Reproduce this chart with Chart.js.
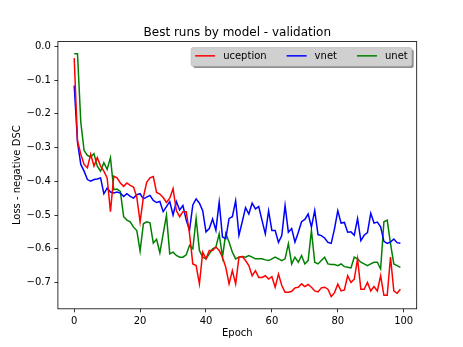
<!DOCTYPE html>
<html><head><meta charset="utf-8">
<script src="https://cdn.jsdelivr.net/npm/chart.js@4.4.0/dist/chart.umd.min.js"></script>
<style>html,body{margin:0;padding:0;background:#fff;}#wrap{width:463px;height:347px;position:relative;}</style>
</head><body><div id="wrap"><canvas id="c" width="463" height="347"></canvas></div>
<script>
const epochs = [0,1,2,3,4,5,6,7,8,9,10,11,12,13,14,15,16,17,18,19,20,21,22,23,24,25,26,27,28,29,30,31,32,33,34,35,36,37,38,39,40,41,42,43,44,45,46,47,48,49,50,51,52,53,54,55,56,57,58,59,60,61,62,63,64,65,66,67,68,69,70,71,72,73,74,75,76,77,78,79,80,81,82,83,84,85,86,87,88,89,90,91,92,93,94,95,96,97,98,99];
const uception = [-0.035,-0.28,-0.32,-0.35,-0.36,-0.32,-0.355,-0.33,-0.355,-0.37,-0.39,-0.49,-0.385,-0.39,-0.405,-0.415,-0.405,-0.412,-0.417,-0.447,-0.521,-0.447,-0.403,-0.39,-0.386,-0.433,-0.438,-0.448,-0.463,-0.45,-0.422,-0.487,-0.505,-0.49,-0.49,-0.555,-0.645,-0.65,-0.704,-0.61,-0.63,-0.605,-0.605,-0.595,-0.605,-0.625,-0.655,-0.704,-0.665,-0.704,-0.625,-0.623,-0.635,-0.65,-0.68,-0.665,-0.685,-0.685,-0.68,-0.69,-0.683,-0.714,-0.675,-0.709,-0.729,-0.729,-0.726,-0.716,-0.714,-0.704,-0.712,-0.706,-0.714,-0.725,-0.728,-0.716,-0.714,-0.72,-0.742,-0.73,-0.705,-0.725,-0.722,-0.68,-0.70,-0.69,-0.63,-0.72,-0.72,-0.70,-0.725,-0.712,-0.725,-0.68,-0.738,-0.738,-0.625,-0.725,-0.732,-0.72];
const vnet = [-0.116,-0.284,-0.35,-0.37,-0.395,-0.40,-0.395,-0.393,-0.39,-0.437,-0.42,-0.432,-0.435,-0.432,-0.435,-0.445,-0.437,-0.445,-0.45,-0.44,-0.437,-0.452,-0.447,-0.442,-0.457,-0.463,-0.46,-0.49,-0.475,-0.46,-0.5,-0.46,-0.485,-0.472,-0.515,-0.545,-0.47,-0.452,-0.465,-0.487,-0.55,-0.54,-0.512,-0.545,-0.462,-0.565,-0.57,-0.51,-0.505,-0.458,-0.56,-0.52,-0.478,-0.497,-0.465,-0.482,-0.475,-0.516,-0.556,-0.488,-0.546,-0.546,-0.581,-0.561,-0.472,-0.551,-0.54,-0.58,-0.552,-0.52,-0.513,-0.497,-0.536,-0.487,-0.558,-0.561,-0.568,-0.581,-0.584,-0.541,-0.487,-0.524,-0.522,-0.551,-0.55,-0.56,-0.511,-0.576,-0.56,-0.552,-0.495,-0.524,-0.521,-0.535,-0.578,-0.584,-0.58,-0.571,-0.582,-0.584];
const unet = [-0.022,-0.022,-0.225,-0.309,-0.323,-0.328,-0.318,-0.355,-0.37,-0.345,-0.365,-0.33,-0.425,-0.423,-0.43,-0.505,-0.515,-0.52,-0.536,-0.546,-0.607,-0.526,-0.52,-0.523,-0.583,-0.572,-0.612,-0.556,-0.501,-0.615,-0.61,-0.62,-0.625,-0.625,-0.618,-0.59,-0.60,-0.51,-0.605,-0.625,-0.63,-0.615,-0.6,-0.595,-0.556,-0.625,-0.555,-0.58,-0.61,-0.63,-0.625,-0.623,-0.625,-0.62,-0.625,-0.63,-0.63,-0.63,-0.633,-0.635,-0.63,-0.625,-0.63,-0.635,-0.63,-0.585,-0.645,-0.625,-0.64,-0.62,-0.645,-0.635,-0.546,-0.64,-0.645,-0.635,-0.625,-0.645,-0.647,-0.647,-0.65,-0.645,-0.653,-0.655,-0.657,-0.625,-0.63,-0.64,-0.645,-0.65,-0.645,-0.64,-0.64,-0.66,-0.52,-0.515,-0.585,-0.645,-0.65,-0.655];
const xTickValues = [0,20,40,60,80,100];
const yTickValues = [0,-0.1,-0.2,-0.3,-0.4,-0.5,-0.6,-0.7];
const seriesNames = ['uception','vnet','unet'];
const seriesColors = ['#ff0000','#0000ff','#008000'];
const titleText = 'Best runs by model - validation';
const xLabelText = 'Epoch';
const yLabelText = 'Loss - negative DSC';

const FONT = '"DejaVu Sans", sans-serif';
const allY = uception.concat(vnet, unet);
const yMinD = Math.min(...allY), yMaxD = Math.max(...allY);
const xMinD = Math.min(...epochs), xMaxD = Math.max(...epochs);
const yPad = (yMaxD - yMinD) * 0.05, xPad = (xMaxD - xMinD) * 0.05;

function pts(vals){ return vals.map((v,i)=>({x: epochs[i], y: v})); }
const seriesVals = [uception, vnet, unet];

const AX = {left: 57.9, right: 416.7, top: 41.6, bottom: 308.8};
const W = 463, H = 347;

function fmtY(v){ const r = Math.round(v*10)/10; return (r < 0 ? '\u2212' : '') + Math.abs(r).toFixed(1); }

const decor = {
  id: 'decor',
  afterDatasetsDraw(chart){
    const {ctx, chartArea: a} = chart;
    ctx.save();
    ctx.strokeStyle = '#000'; ctx.lineWidth = 0.8;
    ctx.strokeRect(a.left, a.top, a.right - a.left, a.bottom - a.top);
    ctx.restore();
  },
  afterDraw(chart){
    const {ctx, chartArea: a} = chart;
    ctx.save();
    ctx.fillStyle = '#000';
    ctx.font = '12px ' + FONT;
    ctx.textAlign = 'center'; ctx.textBaseline = 'alphabetic';
    ctx.fillText(titleText, (a.left + a.right)/2, a.top - 6);
    ctx.font = '10px ' + FONT;
    ctx.textBaseline = 'middle';
    ctx.fillText(xLabelText, (a.left + a.right)/2, 333);
    ctx.save();
    ctx.translate(17, (a.top + a.bottom)/2);
    ctx.rotate(-Math.PI/2);
    ctx.fillText(yLabelText, 0, 0);
    ctx.restore();
    // legend
    const pad = 4, hl = 20, hp = 8, cs = 20;
    const widths = chart.data.datasets.map(d => ctx.measureText(d.label).width);
    let tw = pad*2 + cs*(widths.length-1);
    widths.forEach(w => tw += hl + hp + w);
    const right = a.right - 5, top = a.top + 6, h = 18.5;
    const left = right - tw;
    function rr(x,y,w,hh,r){ ctx.beginPath(); ctx.moveTo(x+r,y); ctx.lineTo(x+w-r,y); ctx.quadraticCurveTo(x+w,y,x+w,y+r); ctx.lineTo(x+w,y+hh-r); ctx.quadraticCurveTo(x+w,y+hh,x+w-r,y+hh); ctx.lineTo(x+r,y+hh); ctx.quadraticCurveTo(x,y+hh,x,y+hh-r); ctx.lineTo(x,y+r); ctx.quadraticCurveTo(x,y,x+r,y); ctx.closePath(); }
    rr(left+2, top+2, tw, h, 2); ctx.fillStyle = '#8c8c8c'; ctx.fill();
    rr(left, top, tw, h, 2); ctx.fillStyle = '#d0d0d0'; ctx.fill();
    ctx.strokeStyle = '#c0c0c0'; ctx.lineWidth = 0.8; ctx.stroke();
    let x = left + pad;
    const cy = top + h/2 - 1;
    ctx.textAlign = 'left';
    chart.data.datasets.forEach((d,i) => {
      ctx.strokeStyle = d.borderColor; ctx.lineWidth = 1.5;
      ctx.beginPath(); ctx.moveTo(x, cy); ctx.lineTo(x + hl, cy); ctx.stroke();
      ctx.fillStyle = '#000';
      ctx.fillText(d.label, x + hl + hp, cy + 0.5);
      x += hl + hp + widths[i] + cs;
    });
    ctx.restore();
  }
};

new Chart(document.getElementById('c'), {
  type: 'line',
  data: {
    datasets: seriesNames.map((n,i) => ({
      label: n, data: pts(seriesVals[i]), borderColor: seriesColors[i], backgroundColor: seriesColors[i],
      borderWidth: 1.5, pointRadius: 0, pointHoverRadius: 0, tension: 0, fill: false
    }))
  },
  options: {
    responsive: false, animation: false, devicePixelRatio: 1,
    layout: {padding: {left: 0, top: AX.top, right: W - AX.right, bottom: 0}},
    plugins: {legend: {display: false}, title: {display: false}, tooltip: {enabled: false}},
    scales: {
      x: {
        type: 'linear', min: xMinD - xPad, max: xMaxD + xPad,
        afterFit(s){ s.height = H - AX.bottom; },
        afterBuildTicks(s){ s.ticks = xTickValues.map(v => ({value: v})); },
        grid: {display: true, drawOnChartArea: false, drawTicks: true, tickLength: 3.5, tickWidth: 0.8, tickColor: '#000'},
        border: {display: false},
        ticks: {padding: 3.5, color: '#000', font: {family: FONT, size: 10}, maxRotation: 0, autoSkip: false, callback: v => String(v)}
      },
      y: {
        type: 'linear', min: yMinD - yPad, max: yMaxD + yPad,
        afterFit(s){ s.width = AX.left; },
        afterBuildTicks(s){ s.ticks = yTickValues.map(v => ({value: v})); },
        grid: {display: true, drawOnChartArea: false, drawTicks: true, tickLength: 3.5, tickWidth: 0.8, tickColor: '#000'},
        border: {display: false},
        ticks: {padding: 3.5, color: '#000', font: {family: FONT, size: 10}, autoSkip: false, callback: v => fmtY(v)}
      }
    }
  },
  plugins: [decor]
});
</script></body></html>
